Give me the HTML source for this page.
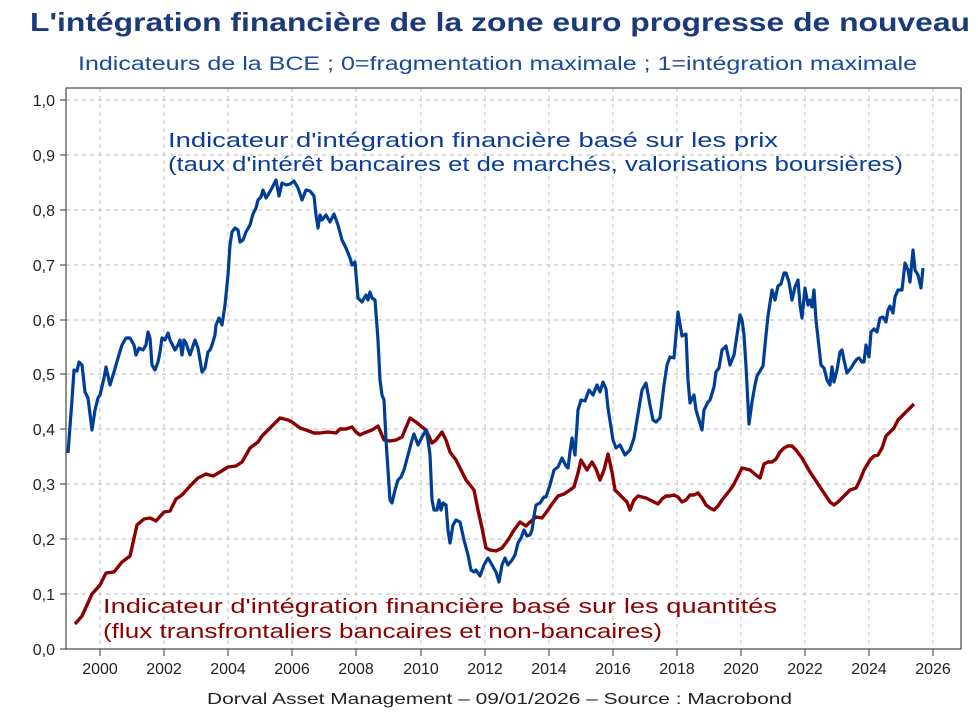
<!DOCTYPE html>
<html><head><meta charset="utf-8"><style>
html,body{margin:0;padding:0;background:#fff;}
svg{display:block;font-family:"Liberation Sans",sans-serif;}
</style></head><body>
<svg width="978" height="715" viewBox="0 0 978 715" xmlns="http://www.w3.org/2000/svg">
<text x="30" y="31" font-size="26" font-weight="bold" fill="#1a3a7c" textLength="940" lengthAdjust="spacingAndGlyphs">L'intégration financière de la zone euro progresse de nouveau</text>
<text x="78" y="70" font-size="19" fill="#1a4a9a" textLength="839" lengthAdjust="spacingAndGlyphs">Indicateurs de la BCE ; 0=fragmentation maximale ; 1=intégration maximale</text>
<g stroke="#c8c8c8" stroke-width="1.2" stroke-dasharray="4,4">
<line x1="66" x2="961" y1="100" y2="100"/><line x1="66" x2="961" y1="155" y2="155"/><line x1="66" x2="961" y1="210" y2="210"/><line x1="66" x2="961" y1="265" y2="265"/><line x1="66" x2="961" y1="320" y2="320"/><line x1="66" x2="961" y1="374" y2="374"/><line x1="66" x2="961" y1="429" y2="429"/><line x1="66" x2="961" y1="484" y2="484"/><line x1="66" x2="961" y1="539" y2="539"/><line x1="66" x2="961" y1="594" y2="594"/>
<line y1="88" y2="649" x1="100" x2="100"/><line y1="88" y2="649" x1="164" x2="164"/><line y1="88" y2="649" x1="228" x2="228"/><line y1="88" y2="649" x1="292" x2="292"/><line y1="88" y2="649" x1="356" x2="356"/><line y1="88" y2="649" x1="421" x2="421"/><line y1="88" y2="649" x1="485" x2="485"/><line y1="88" y2="649" x1="549" x2="549"/><line y1="88" y2="649" x1="613" x2="613"/><line y1="88" y2="649" x1="677" x2="677"/><line y1="88" y2="649" x1="741" x2="741"/><line y1="88" y2="649" x1="805" x2="805"/><line y1="88" y2="649" x1="869" x2="869"/><line y1="88" y2="649" x1="933" x2="933"/>
</g>
<rect x="66" y="88" width="895" height="561" fill="none" stroke="#555" stroke-width="1.3"/>
<g stroke="#555" stroke-width="1.2">
<line x1="60" x2="66" y1="100" y2="100"/><line x1="60" x2="66" y1="155" y2="155"/><line x1="60" x2="66" y1="210" y2="210"/><line x1="60" x2="66" y1="265" y2="265"/><line x1="60" x2="66" y1="320" y2="320"/><line x1="60" x2="66" y1="374" y2="374"/><line x1="60" x2="66" y1="429" y2="429"/><line x1="60" x2="66" y1="484" y2="484"/><line x1="60" x2="66" y1="539" y2="539"/><line x1="60" x2="66" y1="594" y2="594"/><line x1="60" x2="66" y1="649" y2="649"/>
<line y1="649" y2="656" x1="100" x2="100"/><line y1="649" y2="656" x1="164" x2="164"/><line y1="649" y2="656" x1="228" x2="228"/><line y1="649" y2="656" x1="292" x2="292"/><line y1="649" y2="656" x1="356" x2="356"/><line y1="649" y2="656" x1="421" x2="421"/><line y1="649" y2="656" x1="485" x2="485"/><line y1="649" y2="656" x1="549" x2="549"/><line y1="649" y2="656" x1="613" x2="613"/><line y1="649" y2="656" x1="677" x2="677"/><line y1="649" y2="656" x1="741" x2="741"/><line y1="649" y2="656" x1="805" x2="805"/><line y1="649" y2="656" x1="869" x2="869"/><line y1="649" y2="656" x1="933" x2="933"/>
</g>
<g font-size="16" fill="#222" text-anchor="end">
<text x="55" y="106">1,0</text><text x="55" y="161">0,9</text><text x="55" y="216">0,8</text><text x="55" y="271">0,7</text><text x="55" y="326">0,6</text><text x="55" y="380">0,5</text><text x="55" y="435">0,4</text><text x="55" y="490">0,3</text><text x="55" y="545">0,2</text><text x="55" y="600">0,1</text><text x="55" y="655">0,0</text>
</g>
<g font-size="16" fill="#222" text-anchor="middle">
<text x="100" y="674">2000</text><text x="164" y="674">2002</text><text x="228" y="674">2004</text><text x="292" y="674">2006</text><text x="356" y="674">2008</text><text x="421" y="674">2010</text><text x="485" y="674">2012</text><text x="549" y="674">2014</text><text x="613" y="674">2016</text><text x="677" y="674">2018</text><text x="741" y="674">2020</text><text x="805" y="674">2022</text><text x="869" y="674">2024</text><text x="933" y="674">2026</text>
</g>
<text x="207" y="704" font-size="16" fill="#222" textLength="585" lengthAdjust="spacingAndGlyphs">Dorval Asset Management – 09/01/2026 –   Source : Macrobond</text>
<polyline fill="none" stroke="#8b0000" stroke-width="3.4" stroke-linejoin="round" points="75,624 82,616 92,594 100,585 106,573 114,572 122,562 130,556 137,525 144,519 150,518 156,521 164,512 170,511 176,499 182,495 190,486 198,478 206,474 213,476 220,472 228,467 236,466 242,462 250,448 258,442 262,436 268,430 280,418 288,420 292,422 300,428 306,430 314,433 320,433 328,432 336,433 340,429 346,429 352,427 356,432 360,435 364,433 372,430 378,426 384,440 390,441 396,440 402,437 410,418 416,422 422,427 426,430 432,443 436,440 442,432 446,440 450,452 456,460 460,468 466,480 470,485 474,490 478,510 482,528 486,548 490,550 496,551 502,548 508,540 514,530 520,522 526,526 530,522 536,517 542,518 548,510 552,504 558,496 564,494 570,490 574,487 578,473 581,460 587,470 592,462 596,469 600,480 604,470 608,454 612,472 615,490 620,495 627,502 630,510 634,500 638,496 646,498 652,501 658,504 662,499 666,496 670,496 674,495 678,497 682,502 686,500 690,495 694,495 698,493 702,498 706,505 710,508 714,510 718,506 722,500 726,495 730,490 734,484 738,476 742,468 746,469 750,470 756,475 760,478 764,464 768,462 772,462 776,459 780,452 784,448 788,446 792,446 796,450 802,458 806,465 810,472 814,478 818,484 822,490 826,496 830,502 834,505 838,502 842,498 846,494 850,490 856,488 860,480 864,470 870,460 874,456 878,455 882,448 886,436 890,432 894,428 898,420 902,416 906,412 910,408 914,404"/>
<polyline fill="none" stroke="#003e96" stroke-width="3.2" stroke-linejoin="round" points="68,453 72,400 74,370 77,371 79,362 82,365 85,392 88,398 92,430 95,410 98,398 100,395 104,378 106,367 110,385 114,372 118,358 122,345 126,338 130,338 134,345 136,355 139,348 143,350 146,345 148,332 150,338 152,365 155,370 158,362 160,352 162,338 165,340 168,333 170,340 175,350 178,345 180,340 182,355 184,340 186,343 190,355 195,340 198,348 202,372 205,368 208,352 210,350 212,345 215,335 216,325 219,318 222,325 225,305 228,275 230,245 232,232 235,228 238,230 240,242 243,240 246,232 250,225 253,214 256,208 258,200 261,197 263,190 266,198 268,195 272,188 276,180 279,196 282,183 286,185 290,184 294,181 298,188 302,200 306,190 310,191 314,196 316,215 318,228 320,215 322,220 326,215 330,222 334,214 338,225 342,240 346,248 350,258 352,265 355,262 358,298 362,302 366,295 368,300 370,292 372,298 375,300 378,340 380,380 382,395 384,400 386,440 390,500 392,503 395,490 398,480 401,477 404,470 408,455 412,440 414,434 418,445 422,437 426,430 428,440 430,455 432,500 434,510 437,510 439,500 441,510 443,503 446,505 448,530 450,543 453,525 456,520 460,522 464,540 468,555 471,570 474,572 476,570 480,576 484,565 488,558 492,565 496,572 499,582 502,565 505,558 508,565 512,560 515,555 518,543 521,538 524,530 527,536 530,535 532,530 534,516 536,505 540,503 544,497 546,497 550,485 554,470 558,467 562,458 566,466 568,468 570,452 572,438 575,455 578,410 581,400 585,401 589,390 593,395 597,385 600,392 603,382 606,389 608,408 613,440 616,448 620,445 625,455 630,450 634,438 637,420 642,390 646,383 650,405 653,420 656,422 660,418 664,385 667,365 670,357 674,358 678,312 682,336 686,334 688,380 690,403 694,395 696,410 699,420 702,430 704,410 708,402 710,400 714,387 716,372 719,368 722,350 726,346 730,365 734,355 737,335 740,315 742,320 744,335 746,366 749,424 752,402 755,385 757,376 760,371 763,366 766,335 768,316 772,290 775,300 778,286 781,284 784,273 786,273 789,282 792,300 795,287 798,280 800,305 802,318 805,288 808,305 810,300 812,307 814,290 816,320 821,365 824,368 827,380 830,385 832,367 834,382 837,370 840,352 842,350 844,360 847,373 851,368 854,363 857,359 859,358 862,362 864,362 866,345 869,357 871,332 874,329 877,332 880,318 883,317 886,322 888,310 890,306 893,313 895,297 898,290 902,290 905,263 908,270 910,282 913,250 915,270 918,275 921,288 923,268"/>
<text x="168" y="147" font-size="20" fill="#0a3d96" textLength="610" lengthAdjust="spacingAndGlyphs">Indicateur d'intégration financière basé sur les prix</text>
<text x="168" y="171" font-size="20" fill="#0a3d96" textLength="735" lengthAdjust="spacingAndGlyphs">(taux d'intérêt bancaires et de marchés, valorisations boursières)</text>
<text x="103" y="613" font-size="20" fill="#8b0000" textLength="674" lengthAdjust="spacingAndGlyphs">Indicateur d'intégration financière basé sur les quantités</text>
<text x="103" y="638" font-size="20" fill="#8b0000" textLength="559" lengthAdjust="spacingAndGlyphs">(flux transfrontaliers bancaires et non-bancaires)</text>
</svg>
</body></html>
